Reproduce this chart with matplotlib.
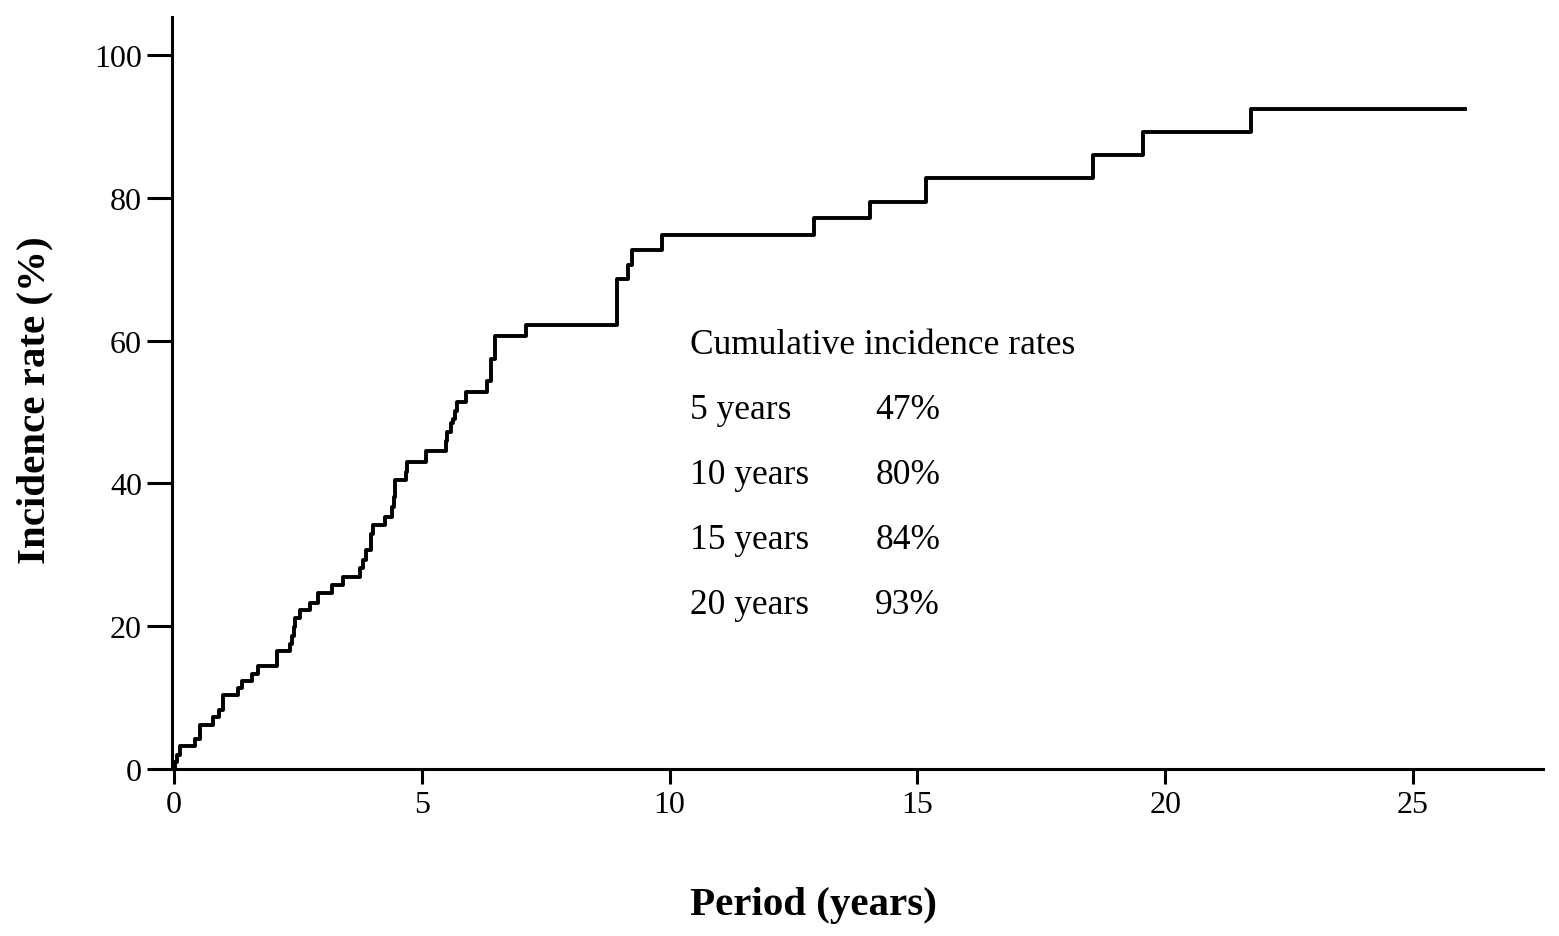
import matplotlib
matplotlib.use("Agg")
import matplotlib.pyplot as plt

plt.rcParams['font.family'] = ['Liberation Serif', 'DejaVu Serif']

# step points: (years, cumulative incidence %)
years = [0.0, 0.03, 0.07, 0.12, 0.42, 0.52, 0.78, 0.91, 0.99, 1.29, 1.37,
         1.57, 1.70, 2.08, 2.34, 2.39, 2.42, 2.44, 2.54, 2.74, 2.91, 3.19,
         3.41, 3.76, 3.81, 3.87, 3.97, 4.01, 4.26, 4.39, 4.43, 4.46, 4.68,
         4.70, 5.08, 5.48, 5.50, 5.58, 5.63, 5.67, 5.71, 5.89, 6.31, 6.39,
         6.48, 7.10, 8.94, 9.16, 9.24, 9.84, 12.92, 14.04, 15.17, 18.54,
         19.56, 21.72, 26.05]
incidence = [0.0, 1.0, 1.9, 3.2, 4.2, 6.2, 7.3, 8.2, 10.3, 11.3, 12.3,
             13.3, 14.4, 16.5, 17.5, 18.6, 19.9, 21.1, 22.2, 23.3, 24.6, 25.7,
             26.9, 28.1, 29.2, 30.6, 32.9, 34.2, 35.3, 36.7, 38.1, 40.5, 41.6,
             43.0, 44.5, 45.9, 47.2, 48.4, 49.0, 50.2, 51.4, 52.8, 54.3, 57.4,
             60.6, 62.2, 68.6, 70.6, 72.7, 74.8, 77.1, 79.4, 82.8, 86.0,
             89.2, 92.4, 92.4]

summary_title = "Cumulative incidence rates"
summary_periods = ["5 years", "10 years", "15 years", "20 years"]
summary_rates = ["47%", "80%", "84%", "93%"]

xticks = [0, 5, 10, 15, 20, 25]
yticks = [0, 20, 40, 60, 80, 100]

fig = plt.figure(figsize=(15.59, 9.37), dpi=100)
ax = fig.add_axes([0.1103, 0.1782, 0.8794, 0.8026])

ax.step(years, incidence, where='post', color='black', linewidth=2.8)

ax.set_xlim(-0.04, 27.62)
ax.set_ylim(0, 105.3)
ax.set_xticks(xticks)
ax.set_yticks(yticks)
ax.tick_params(axis='x', direction='out', length=10.8, width=2.2, pad=4,
               labelsize=23)
ax.tick_params(axis='y', direction='out', length=18, width=2.2, pad=3.5,
               labelsize=23)
for side in ['top', 'right']:
    ax.spines[side].set_visible(False)
for side in ['left', 'bottom']:
    ax.spines[side].set_linewidth(2.2)

# summary table inside the plot
tx, tx2 = 10.41, 14.15
ax.text(tx, 58.3, summary_title, fontsize=25.5, va='baseline', ha='left')
for i, (p, r) in enumerate(zip(summary_periods, summary_rates)):
    yy = 49.2 - i * 9.1
    ax.text(tx, yy, p, fontsize=25.5, va='baseline', ha='left')
    ax.text(tx2, yy, r, fontsize=25.5, va='baseline', ha='left')

fig.text(0.0225, 0.573, "Incidence rate (%)", rotation=90, fontsize=29.5,
         fontweight='bold', ha='center', va='center')
fig.text(0.522, 0.0235, "Period (years)", fontsize=29.5, fontweight='bold',
         ha='center', va='baseline')

fig.savefig("out.png", dpi=100)
